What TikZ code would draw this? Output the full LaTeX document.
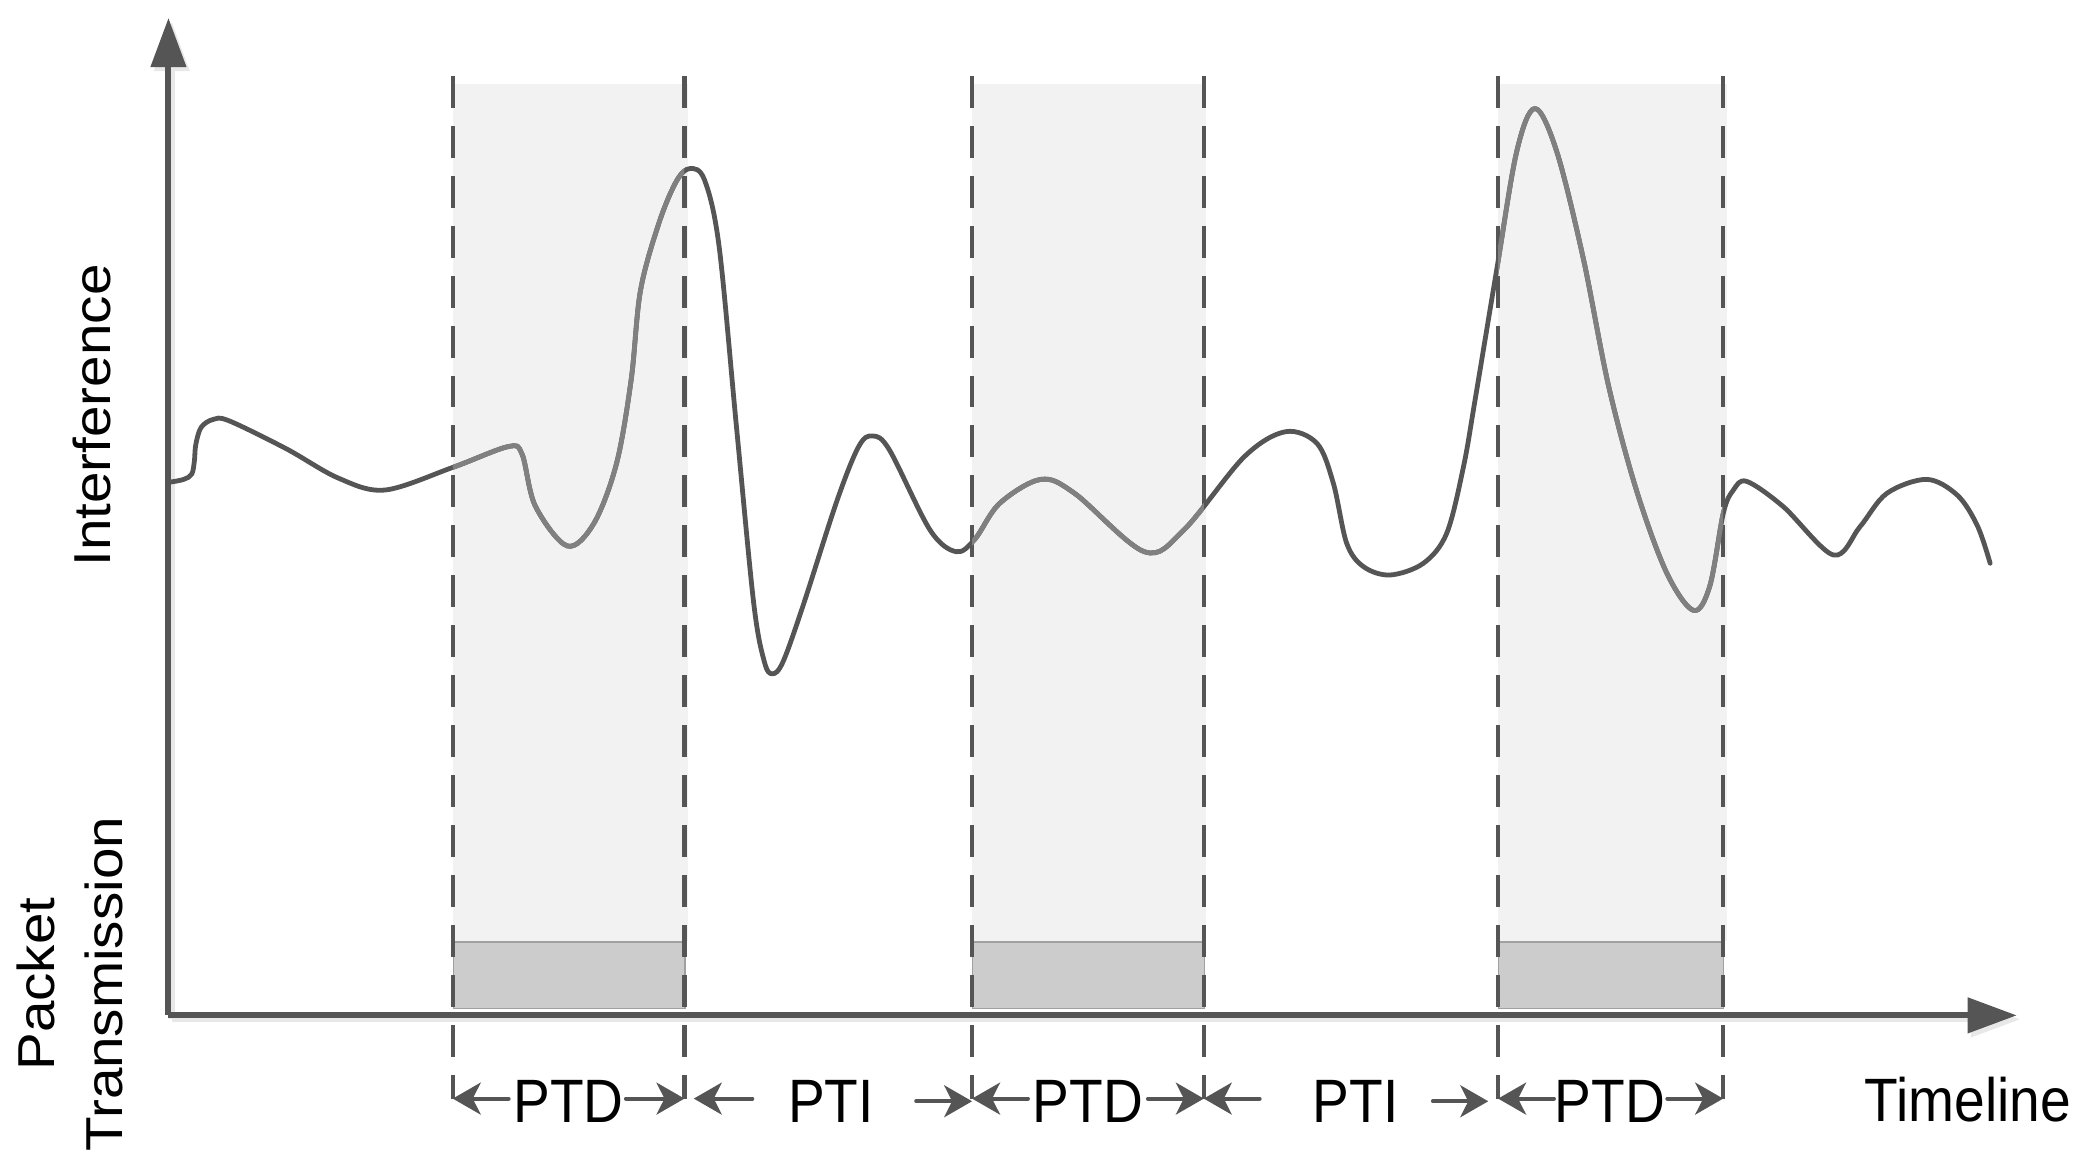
\documentclass[tikz,border=0pt]{standalone}
\usepackage{fontspec}
\setmainfont{Liberation Sans}
\newfontfamily\hfont[FakeStretch=0.9]{Liberation Sans}
\newfontfamily\vfont[FakeStretch=1.09]{Liberation Sans}
\usetikzlibrary{arrows.meta}
\definecolor{axisgray}{RGB}{85,85,85}
\definecolor{curvelight}{RGB}{128,128,128}
\definecolor{shadefill}{RGB}{242,242,242}
\definecolor{boxgray}{RGB}{204,204,204}
\definecolor{boxline}{RGB}{160,160,160}
\definecolor{shadowgray}{RGB}{232,232,232}
\begin{document}
\begin{tikzpicture}[x=1pt,y=-1pt,
  axisline/.style={line width=4.5pt, draw=axisgray, -{Triangle[length=37pt,width=26pt]}},
  axisshadow/.style={line width=4.5pt, draw=shadowgray, -{Triangle[length=37pt,width=26pt]}},
  guide/.style={line width=3.3pt, draw=axisgray, dash pattern=on 24pt off 13.5pt},
  shaded/.style={fill=shadefill, draw=none},
  packet/.style={fill=boxgray, draw=boxline, line width=0.8pt},
  curve/.style={line width=3.6pt, draw=axisgray, line cap=round, line join=round},
  dimarr/.style={line width=2.9pt, draw=axisgray, line cap=round, -{Stealth[length=21pt,width=24pt,inset=6pt]}},
  hlbl/.style={font=\hfont\fontsize{46}{50}\selectfont, text=black, inner sep=0pt},
  vlbl/.style={font=\vfont\fontsize{39}{44}\selectfont, text=black, inner sep=0pt, rotate=90}]
\useasboundingbox (0,0) rectangle (1568,874);

% shaded transmission windows
\path[shaded] (340,63) rectangle (517,707);
\path[shaded] (730,63) rectangle (906,707);
\path[shaded] (1125,63) rectangle (1297,707);

% packet boxes
\node[packet, minimum width=174pt, minimum height=50pt, anchor=north west, inner sep=0pt] (pk1) at (340,707) {};
\node[packet, minimum width=174pt, minimum height=50pt, anchor=north west, inner sep=0pt] (pk2) at (730,707) {};
\node[packet, minimum width=169pt, minimum height=50pt, anchor=north west, inner sep=0pt] (pk3) at (1125,707) {};

% guide line ends
\coordinate (g1t) at (340,57);  \coordinate (g1b) at (340,825);
\coordinate (g2t) at (514,57);  \coordinate (g2b) at (514,825);
\coordinate (g3t) at (730,57);  \coordinate (g3b) at (730,825);
\coordinate (g4t) at (904,57);  \coordinate (g4b) at (904,825);
\coordinate (g5t) at (1125,57); \coordinate (g5b) at (1125,825);
\coordinate (g6t) at (1294,57); \coordinate (g6b) at (1294,825);
\foreach \i in {1,...,6} {\draw[guide] (g\i t) -- (g\i b);}

% axes
\coordinate (origin) at (126.5,762.5);
\coordinate (ytip) at (126.5,13.5);
\coordinate (xtip) at (1514.5,762.5);
\draw[axisshadow] ([shift={(2.5,3)}]origin) -- ([shift={(2.5,3)}]ytip);
\draw[axisshadow] ([shift={(2.5,3)}]origin) -- ([shift={(2.5,3)}]xtip);
\draw[axisline] (origin) -- (ytip);
\draw[axisline] (origin) -- (xtip);

% interference curve
\path[save path=\ipath] plot[smooth,tension=0.55] coordinates {
(128,362) (138,360) (144,356) (146,346) (147,334) (151,321) (160,315) (172,316)
(215,337) (254,359) (289,368) (340,351) (381.6,335.4) (392,341) (402,380) (426,410)
(446,393) (463,348) (474,285) (481,218) (495,167) (508,136) (518,126.6) (529,135)
(540,185) (553,320) (566,453) (574,497) (580,506) (588,497) (603,455) (628.7,375.5)
(645,335) (655.5,327.4) (668,338) (698.4,398) (718,414.3) (732,405) (750.7,378)
(781.6,360) (807,370.5) (859.3,414.3) (889,398) (934.4,343) (965.3,324.2) (989,333)
(1001.3,363) (1011.3,408) (1024,425.6) (1043.9,431.8) (1068.9,423) (1086.4,400.5)
(1099,350.5) (1107.7,300.4) (1124,202.2) (1139,113.7) (1152.7,81.5) (1169,113.7)
(1189,194.2) (1208,290) (1229,368.5) (1251.6,430.2) (1271.7,458.4) (1284,440)
(1294.2,385) (1301.7,368) (1311.7,361.5) (1339.2,380.5) (1376.8,416.8) (1396.8,395.5)
(1416.9,370.5) (1446.9,360) (1470,372) (1485,395) (1494.5,423)};
\draw[curve, use path=\ipath];
\begin{scope}
\clip (340,0) rectangle (514,874) (730,0) rectangle (904,874) (1125,0) rectangle (1294,874);
\draw[curve, draw=curvelight, use path=\ipath];
\end{scope}

% dimension labels
\node[hlbl, anchor=base] (ptd1) at (427,843) {PTD};
\node[hlbl, anchor=base] (pti1) at (624,843) {PTI};
\node[hlbl, anchor=base] (ptd2) at (817,843) {PTD};
\node[hlbl, anchor=base] (pti2) at (1018,843) {PTI};
\node[hlbl, anchor=base] (ptd3) at (1209,843) {PTD};

\coordinate (a1) at (382,825);  \coordinate (a2) at (470,825);
\coordinate (a3) at (565,825);  \coordinate (a4) at (688,827);  \coordinate (t4) at (730,827);
\coordinate (t3) at (521,825);
\coordinate (a5) at (772,825);  \coordinate (a6) at (862,825);
\coordinate (a7) at (946,825);  \coordinate (a8) at (1076,827); \coordinate (t8) at (1117.6,827);
\coordinate (a9) at (1167,825); \coordinate (a10) at (1252,825);

\draw[dimarr] (a1) -- (g1b);
\draw[dimarr] (a2) -- (g2b);
\draw[dimarr] (a3) -- (t3);
\draw[dimarr] (a4) -- (t4);
\draw[dimarr] (a5) -- (g3b);
\draw[dimarr] (a6) -- (g4b);
\draw[dimarr] (a7) -- (g4b);
\draw[dimarr] (a8) -- (t8);
\draw[dimarr] (a9) -- (g5b);
\draw[dimarr] (a10) -- (g6b);

% axis labels
\node[hlbl, anchor=base west] (timeline) at (1400,842) {Timeline};
\node[vlbl, anchor=base] (interf) at (83,312) {Interference};
\node[vlbl, anchor=base] (packet) at (41,739) {Packet};
\node[vlbl, anchor=base] (transm) at (92,739) {Transmission};
\end{tikzpicture}
\end{document}
